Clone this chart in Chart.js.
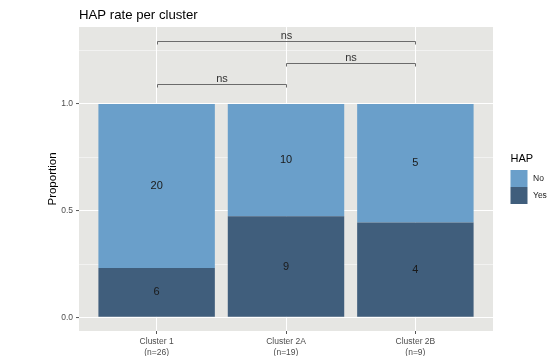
<!DOCTYPE html>
<html>
<head>
<meta charset="utf-8">
<script src="https://cdn.jsdelivr.net/npm/chart.js@4"></script>
<style>
  html, body { margin: 0; padding: 0; background: #fff; }
  #wrap { width: 554px; height: 356px; }
</style>
</head>
<body>
<div id="wrap"><canvas id="chart" width="554" height="356"></canvas></div>
<script>
// данные
const categories = ['Cluster 1', 'Cluster 2A', 'Cluster 2B'];
const noCounts = [20, 10, 5];
const yesCounts = [6, 9, 4];
const yMajorTicks = [0, 0.5, 1.0];
const yMinorTicks = [0.25, 0.75, 1.25];
const bracketFrom = [1, 2, 1];
const bracketTo = [3, 3, 2];
const bracketLevel = [1.295, 1.191, 1.092];
const bracketLabels = ['ns', 'ns', 'ns'];
const legendLabels = ['No', 'Yes'];

const FONT = '"Liberation Sans", Arial, sans-serif';
const COL_NO = '#6a9fca';
const COL_YES = '#405e7c';

const totals = categories.map((c, i) => noCounts[i] + yesCounts[i]);

// фон панели
const panelBg = {
    id: 'panelBg',
    beforeDraw(chart) {
        const a = chart.chartArea;
        const ctx = chart.ctx;
        ctx.save();
        ctx.fillStyle = '#e6e6e3';
        ctx.fillRect(a.left, a.top, a.right - a.left, a.bottom - a.top);
        ctx.restore();
    }
};

// подписи, скобки, легенда
const extras = {
    id: 'extras',
    afterDatasetsDraw(chart) {
        const ctx = chart.ctx;
        const x = chart.scales.x, y = chart.scales.y;
        ctx.save();

        // числа в сегментах
        ctx.font = '11px ' + FONT;
        ctx.fillStyle = '#1a1a1a';
        ctx.textAlign = 'center';
        ctx.textBaseline = 'middle';
        const counts = [yesCounts, noCounts];
        chart.data.datasets.forEach((ds, di) => {
            chart.getDatasetMeta(di).data.forEach((bar, i) => {
                ctx.fillText(String(counts[di][i]), bar.x, (bar.y + bar.base) / 2);
            });
        });

        // скобки сравнения
        ctx.strokeStyle = '#6b6b6b';
        ctx.lineWidth = 1;
        ctx.font = '11px ' + FONT;
        ctx.fillStyle = '#333';
        bracketLabels.forEach((lab, i) => {
            const x1 = Math.round(x.getPixelForValue(bracketFrom[i])) + 0.5;
            const x2 = Math.round(x.getPixelForValue(bracketTo[i])) + 0.5;
            const yy = Math.round(y.getPixelForValue(bracketLevel[i])) + 0.5;
            ctx.beginPath();
            ctx.moveTo(x1, yy + 3);
            ctx.lineTo(x1, yy);
            ctx.lineTo(x2, yy);
            ctx.lineTo(x2, yy + 3);
            ctx.stroke();
            ctx.fillText(lab, (x1 + x2) / 2, yy - 5.5);
        });

        // заголовок
        ctx.textAlign = 'left';
        ctx.fillStyle = '#000';
        ctx.font = '13.2px ' + FONT;
        ctx.fillText('HAP rate per cluster', 79, 15);

        // подпись оси Y
        const a = chart.chartArea;
        ctx.save();
        ctx.translate(53, (a.top + a.bottom) / 2);
        ctx.rotate(-Math.PI / 2);
        ctx.textAlign = 'center';
        ctx.font = '11.5px ' + FONT;
        ctx.fillText('Proportion', 0, 0);
        ctx.restore();

        // легенда
        ctx.font = '11px ' + FONT;
        ctx.fillText('HAP', 510.5, 159);
        const keyCols = [COL_NO, COL_YES];
        ctx.font = '8.5px ' + FONT;
        legendLabels.forEach((lab, i) => {
            const top = 170 + i * 17;
            ctx.fillStyle = keyCols[i];
            ctx.fillRect(510.5, top, 17, 17);
            ctx.fillStyle = '#1a1a1a';
            ctx.fillText(lab, 533, top + 9);
        });

        ctx.restore();
    }
};

new Chart(document.getElementById('chart').getContext('2d'), {
    type: 'bar',
    data: {
        datasets: [
            {
                label: 'Yes',
                data: categories.map((c, i) => ({ x: i + 1, y: yesCounts[i] / totals[i] })),
                backgroundColor: COL_YES
            },
            {
                label: 'No',
                data: categories.map((c, i) => ({ x: i + 1, y: noCounts[i] / totals[i] })),
                backgroundColor: COL_NO
            }
        ]
    },
    options: {
        responsive: false,
        animation: false,
        events: [],
        barPercentage: 0.9,
        categoryPercentage: 1,
        borderWidth: 0,
        layout: { padding: { left: 0, top: 27, right: 61, bottom: 0 } },
        plugins: {
            legend: { display: false },
            title: { display: false },
            tooltip: { enabled: false }
        },
        scales: {
            x: {
                type: 'linear',
                stacked: true,
                offset: false,
                min: 0.4,
                max: 3.6,
                afterBuildTicks: s => { s.ticks = categories.map((c, i) => ({ value: i + 1 })); },
                afterFit: s => { s.height = 25; },
                border: { display: false },
                grid: {
                    offset: false,
                    color: '#ffffff',
                    lineWidth: 1,
                    tickColor: '#555',
                    tickWidth: 1,
                    tickLength: 3
                },
                ticks: {
                    padding: 3,
                    maxRotation: 0,
                    autoSkip: false,
                    color: '#4d4d4d',
                    font: { family: FONT, size: 8.5, lineHeight: 1.2 },
                    callback: (v, i) => [categories[i], '(n=' + totals[i] + ')']
                }
            },
            y: {
                stacked: true,
                min: -0.064,
                max: 1.361,
                afterBuildTicks: s => {
                    s.ticks = yMajorTicks.concat(yMinorTicks).sort((a, b) => a - b).map(v => ({ value: v }));
                },
                afterFit: s => { s.width = 79; },
                border: { display: false },
                grid: {
                    color: '#ffffff',
                    lineWidth: c => yMajorTicks.includes(c.tick.value) ? 1.1 : 0.5,
                    tickColor: c => yMajorTicks.includes(c.tick.value) ? '#555' : 'rgba(0,0,0,0)',
                    tickWidth: 1,
                    tickLength: 3
                },
                ticks: {
                    padding: 3,
                    color: '#4d4d4d',
                    font: { family: FONT, size: 8.5 },
                    callback: v => yMajorTicks.includes(v) ? v.toFixed(1) : ''
                }
            }
        }
    },
    plugins: [panelBg, extras]
});
</script>
</body>
</html>
